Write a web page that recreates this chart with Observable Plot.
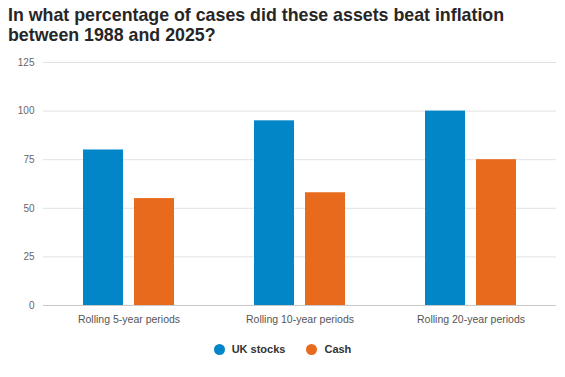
<!DOCTYPE html>
<html>
<head>
<meta charset="utf-8">
<script src="https://cdn.jsdelivr.net/npm/d3@7"></script>
<script src="https://cdn.jsdelivr.net/npm/@observablehq/plot@0.6"></script>
<style>
  html, body { margin: 0; padding: 0; background: #fff; }
  body { width: 565px; height: 377px; position: relative; overflow: hidden; font-family: "Liberation Sans", Arial, sans-serif; }
  #title { position: absolute; left: 8px; top: 5px; font-size: 17.8px; line-height: 20px; font-weight: bold; color: #262626; }
  #chart { position: absolute; left: 0; top: 50px; }
  #legend { position: absolute; left: 0; top: 342px; width: 565px; height: 14px; display: flex; justify-content: center; align-items: center; font-size: 11px; font-weight: bold; color: #333; }
  .item { display: flex; align-items: center; }
  .dot { width: 11px; height: 11px; border-radius: 50%; margin-right: 7px; }
</style>
</head>
<body>
<div id="title">In what percentage of cases did these assets beat inflation<br>between 1988 and 2025?</div>
<div id="chart"></div>
<div id="legend"></div>
<script>
const periods = ["Rolling 5-year periods", "Rolling 10-year periods", "Rolling 20-year periods"];
const series = ["UK stocks", "Cash"];
const ukStocks = [80, 95, 100];
const cash = [55, 58, 75];
const colors = ["#0386c7", "#e86a1d"];
const yTicks = [0, 25, 50, 75, 100, 125];

const data = periods.flatMap((p, i) => [
  {period: p, asset: series[0], value: ukStocks[i]},
  {period: p, asset: series[1], value: cash[i]}
]);

const chart = Plot.plot({
  width: 565,
  height: 282,
  marginTop: 12,
  marginBottom: 27,
  marginLeft: 43,
  marginRight: 9,
  style: {fontFamily: "'Liberation Sans', Arial, sans-serif", background: "white"},
  fx: {domain: periods, padding: 0, label: null},
  x: {domain: series, paddingInner: 0.216, paddingOuter: 0.784, axis: null},
  y: {domain: [0, 125], label: null},
  color: {domain: series, range: colors},
  marks: [
    Plot.ruleY(yTicks.slice(1), {stroke: "#e2e2e2"}),
    Plot.ruleY([0], {stroke: "#c9c9c9"}),
    Plot.barY(data, {fx: "period", x: "asset", y: "value", fill: "asset"}),
    Plot.axisY({ticks: yTicks, tickSize: 0, tickPadding: 9, fontSize: 10, color: "#666", label: null}),
    Plot.axisFx({anchor: "bottom", tickSize: 0, tickPadding: 10, fontSize: 10.5, color: "#555", label: null})
  ]
});
document.getElementById("chart").appendChild(chart);

const legend = document.getElementById("legend");
series.forEach((s, i) => {
  const item = document.createElement("div");
  item.className = "item";
  if (i > 0) item.style.marginLeft = "21px";
  const dot = document.createElement("span");
  dot.className = "dot";
  dot.style.background = colors[i];
  const label = document.createElement("span");
  label.textContent = s;
  item.appendChild(dot);
  item.appendChild(label);
  legend.appendChild(item);
});
</script>
</body>
</html>
